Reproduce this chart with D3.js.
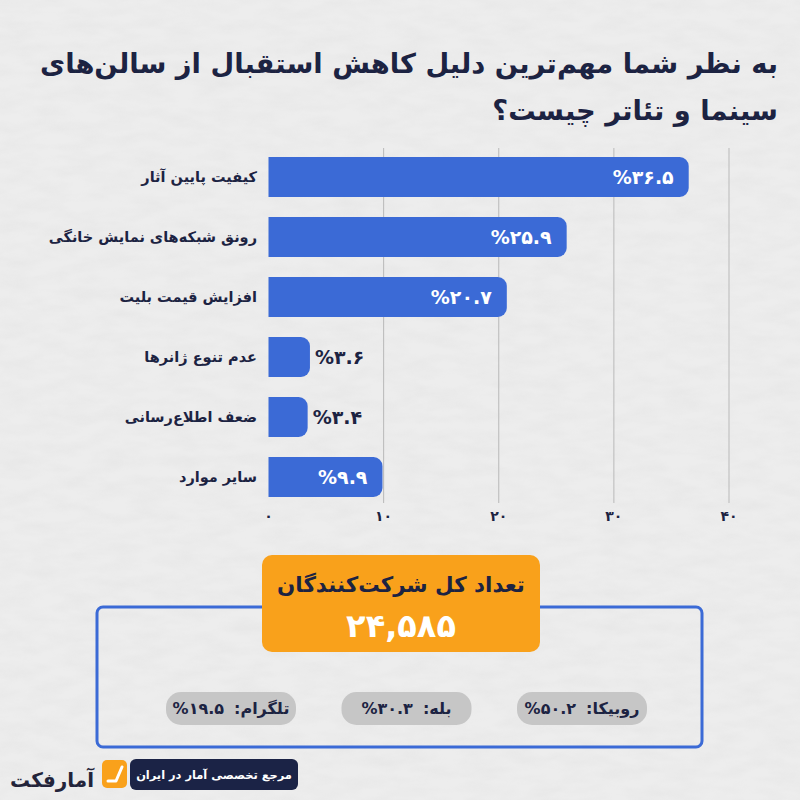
<!DOCTYPE html>
<html><head><meta charset="utf-8">
<script src="https://cdn.jsdelivr.net/npm/d3@7"></script>
<style>
html,body{margin:0;padding:0;background:#ececec;}
svg{display:block;}
text{font-family:"DejaVu Sans","Noto Sans",sans-serif;}
</style></head>
<body>
<svg id="chart" width="800" height="800"></svg>
<script>
// ---------- data ----------
const titleLines = ["به نظر شما مهم‌ترین دلیل کاهش استقبال از سالن‌های", "سینما و تئاتر چیست؟"];
const categories = ["کیفیت پایین آثار", "رونق شبکه‌های نمایش خانگی", "افزایش قیمت بلیت", "عدم تنوع ژانرها", "ضعف اطلاع‌رسانی", "سایر موارد"];
const values = [36.5, 25.9, 20.7, 3.6, 3.4, 9.9];
const tickValues = [0, 10, 20, 30, 40];
const totalLabel = "تعداد کل شرکت‌کنندگان";
const totalValue = "24,585";
const platforms = ["روبیکا", "بله", "تلگرام"];
const platformShares = [50.2, 30.3, 19.5];
const footerText = "مرجع تخصصی آمار در ایران";
const brandText = "آمارفکت";

// ---------- helpers ----------
const faDigits = "۰۱۲۳۴۵۶۷۸۹";
const toFa = s => String(s).replace(/[0-9]/g, d => faDigits[+d]);
const NAVY = "#1c2342", BLUE = "#3b6ad6", ORANGE = "#f9a11b";
const fit = (sel, maxW) => {
  const w = sel.node().getComputedTextLength();
  if (w > maxW) sel.attr("font-size", parseFloat(sel.attr("font-size")) * maxW / w);
  return sel;
};

const svg = d3.select("#chart");

// paper texture background
const defs = svg.append("defs");
const f = defs.append("filter").attr("id", "paper").attr("x", 0).attr("y", 0).attr("width", "100%").attr("height", "100%");
f.append("feTurbulence").attr("type", "fractalNoise").attr("baseFrequency", "0.03 0.09").attr("numOctaves", 3).attr("seed", 5).attr("result", "n");
f.append("feColorMatrix").attr("type", "matrix")
  .attr("values", "0 0 0 0 0.6  0 0 0 0 0.6  0 0 0 0 0.6  0 0 0 -1.4 0.95");
svg.append("rect").attr("width", 800).attr("height", 800).attr("fill", "#ededed");
svg.append("rect").attr("width", 800).attr("height", 800).attr("filter", "url(#paper)").attr("opacity", 0.18);

// ---------- title ----------
const titleG = svg.append("g");
const titleEls = titleLines.map((t, i) => titleG.append("text")
  .attr("x", 778).attr("y", 73 + i * 47)
  .attr("text-anchor", "end")
  .attr("font-size", 32).attr("font-weight", 700)
  .attr("fill", NAVY).text(t));
fit(titleEls[0], 738);
titleEls[1].attr("font-size", titleEls[0].attr("font-size"));

// ---------- bar chart ----------
const x = d3.scaleLinear().domain([0, 40]).range([268.5, 729]);
const y = d3.scaleBand().domain(categories).range([147, 507]).paddingInner(1 / 3).paddingOuter(1 / 6);

const g = svg.append("g");
g.selectAll("line.grid").data(tickValues.slice(1)).join("line")
  .attr("x1", d => x(d)).attr("x2", d => x(d))
  .attr("y1", 148).attr("y2", 503)
  .attr("stroke", "#b9b9b9").attr("stroke-width", 1);

const barPath = (x0, y0, w, h, r) => {
  r = Math.min(r, w / 2, h / 2);
  return `M${x0},${y0}H${x0 + w - r}A${r},${r} 0 0 1 ${x0 + w},${y0 + r}V${y0 + h - r}A${r},${r} 0 0 1 ${x0 + w - r},${y0 + h}H${x0}Z`;
};
const rows = categories.map((c, i) => ({ c, v: values[i] }));
g.selectAll("path.bar").data(rows).join("path")
  .attr("d", d => barPath(x(0), y(d.c), x(d.v) - x(0), y.bandwidth(), 9))
  .attr("fill", BLUE);

// value labels
g.selectAll("text.val").data(rows).join("text")
  .attr("direction", "ltr")
  .attr("x", d => d.v > 6 ? x(d.v) - 15 : x(d.v) + 5)
  .attr("y", d => y(d.c) + y.bandwidth() / 2 + 7)
  .attr("text-anchor", d => d.v > 6 ? "end" : "start")
  .attr("font-size", 19).attr("font-weight", 700)
  .attr("fill", d => d.v > 6 ? "#ffffff" : NAVY)
  .text(d => "%" + toFa(d.v.toFixed(1)));

// category labels
g.selectAll("text.cat").data(rows).join("text")
  .attr("x", 257)
  .attr("y", d => y(d.c) + y.bandwidth() / 2 + 5)
  .attr("text-anchor", "end")
  .attr("font-size", 14.5).attr("font-weight", 700)
  .attr("fill", NAVY)
  .text(d => d.c);

// x axis tick labels
g.selectAll("text.tick").data(tickValues).join("text")
  .attr("x", d => x(d)).attr("y", 521)
  .attr("text-anchor", "middle")
  .attr("font-size", 14).attr("font-weight", 700)
  .attr("fill", NAVY)
  .text(d => toFa(d));

// ---------- participants box ----------
svg.append("rect").attr("x", 97).attr("y", 607).attr("width", 605).attr("height", 140)
  .attr("rx", 6).attr("fill", "none").attr("stroke", BLUE).attr("stroke-width", 3);
svg.append("rect").attr("x", 262).attr("y", 555).attr("width", 278).attr("height", 97)
  .attr("rx", 10).attr("fill", ORANGE);
fit(svg.append("text").attr("x", 401).attr("y", 592).attr("text-anchor", "middle")
  .attr("font-size", 24).attr("font-weight", 700).attr("fill", NAVY).text(totalLabel), 248);
svg.append("text").attr("x", 401).attr("y", 637).attr("text-anchor", "middle")
  .attr("font-size", 32).attr("font-weight", 700).attr("fill", "#ffffff").text(toFa(totalValue));

// platform pills
const px = d3.scalePoint().domain(platforms).range([582, 231]);
platforms.forEach((p, i) => {
  const cx = px(p), pw = 130, ph = 33, py = 692;
  const pg = svg.append("g");
  pg.append("rect").attr("x", cx - pw / 2).attr("y", py).attr("width", pw).attr("height", ph)
    .attr("rx", 15).attr("fill", "#c6c6c6");
  const name = pg.append("text").attr("y", py + 22).attr("text-anchor", "end")
    .attr("font-size", 16).attr("font-weight", 700).attr("fill", NAVY).text(p + ":\u200F");
  const val = pg.append("text").attr("direction", "ltr").attr("y", py + 22).attr("text-anchor", "end")
    .attr("font-size", 16).attr("font-weight", 700).attr("fill", NAVY).text("%" + toFa(platformShares[i].toFixed(1)));
  const wn = name.node().getComputedTextLength(), wv = val.node().getComputedTextLength();
  const gap = 10, tot = wn + gap + wv;
  const right = cx + tot / 2;
  name.attr("x", right);
  val.attr("x", right - wn - gap);
});

// ---------- footer ----------
svg.append("rect").attr("x", 130).attr("y", 759).attr("width", 168).attr("height", 31)
  .attr("rx", 6).attr("fill", "#1b2346");
fit(svg.append("text").attr("x", 214).attr("y", 779).attr("text-anchor", "middle")
  .attr("font-size", 13).attr("font-weight", 700).attr("fill", "#ffffff").text(footerText), 156);
svg.append("rect").attr("x", 102).attr("y", 760).attr("width", 25).attr("height", 28)
  .attr("rx", 5).attr("fill", ORANGE);
svg.append("path").attr("d", "M108,781 L116,781 L122,767").attr("fill", "none")
  .attr("stroke", "#ffffff").attr("stroke-width", 3).attr("stroke-linecap", "round").attr("stroke-linejoin", "round");
fit(svg.append("text").attr("x", 94).attr("y", 787).attr("text-anchor", "end")
  .attr("font-size", 28).attr("font-weight", 700).attr("fill", "#23243a").text(brandText), 84);
</script>
</body></html>
